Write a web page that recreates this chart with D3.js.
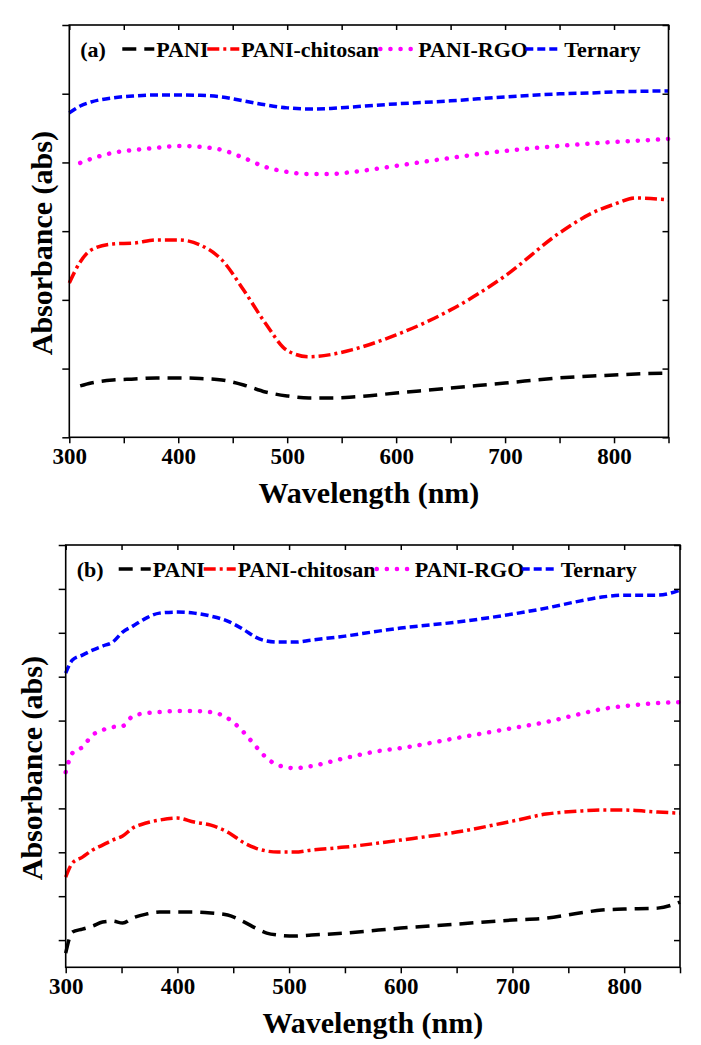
<!DOCTYPE html>
<html>
<head>
<meta charset="utf-8">
<script src="https://cdn.jsdelivr.net/npm/d3@7"></script>
<style>
  body { margin: 0; background: #fff; }
</style>
</head>
<body>
<div id="chart"></div>
<script>
// === DATA (a) ===
const waveA = [300, 310, 320, 340, 360, 380, 400, 420, 440, 460, 480, 500, 520, 540, 560, 600, 650, 700, 750, 780, 800, 820, 850];
const paniA = [null, 0.374, 0.395, 0.417, 0.424, 0.432, 0.432, 0.428, 0.417, 0.381, 0.330, 0.301, 0.286, 0.286, 0.293, 0.322, 0.359, 0.395, 0.432, 0.446, 0.453, 0.461, 0.468];
const chitosanA = [1.123, 1.276, 1.363, 1.407, 1.414, 1.436, 1.436, 1.400, 1.291, 1.072, 0.830, 0.632, 0.586, 0.602, 0.638, 0.745, 0.927, 1.174, 1.487, 1.632, 1.695, 1.741, 1.727];
const rgoA = [null, 1.997, 2.026, 2.070, 2.091, 2.106, 2.120, 2.113, 2.091, 2.033, 1.967, 1.931, 1.916, 1.916, 1.931, 1.975, 2.033, 2.084, 2.120, 2.138, 2.149, 2.157, 2.171];
const ternaryA = [2.360, 2.411, 2.440, 2.470, 2.484, 2.491, 2.491, 2.488, 2.477, 2.448, 2.419, 2.397, 2.389, 2.393, 2.404, 2.426, 2.448, 2.477, 2.499, 2.506, 2.513, 2.517, 2.520];

// === DATA (b) ===
const waveB = [300, 306, 315, 324, 333, 342, 351, 360, 372, 384, 400, 415, 430, 445, 460, 470, 480, 490, 505, 520, 550, 580, 600, 650, 700, 730, 760, 780, 800, 830, 850];
const paniB = [0.352, 0.591, 0.625, 0.659, 0.705, 0.716, 0.694, 0.751, 0.796, 0.819, 0.819, 0.819, 0.808, 0.785, 0.705, 0.637, 0.580, 0.557, 0.546, 0.557, 0.580, 0.614, 0.637, 0.682, 0.728, 0.751, 0.808, 0.842, 0.853, 0.864, 0.933];
const chitosanB = [1.218, 1.377, 1.445, 1.525, 1.582, 1.639, 1.685, 1.776, 1.833, 1.867, 1.890, 1.844, 1.810, 1.730, 1.605, 1.548, 1.514, 1.502, 1.502, 1.525, 1.559, 1.605, 1.639, 1.730, 1.855, 1.935, 1.969, 1.981, 1.981, 1.958, 1.946];
const rgoB = [2.413, 2.630, 2.698, 2.835, 2.892, 2.926, 2.937, 3.051, 3.085, 3.097, 3.108, 3.108, 3.097, 3.028, 2.858, 2.710, 2.573, 2.493, 2.459, 2.482, 2.573, 2.653, 2.687, 2.801, 2.915, 2.983, 3.074, 3.131, 3.165, 3.199, 3.211];
const ternaryB = [3.541, 3.689, 3.746, 3.803, 3.849, 3.894, 4.008, 4.076, 4.167, 4.224, 4.236, 4.224, 4.190, 4.133, 4.031, 3.951, 3.906, 3.894, 3.894, 3.917, 3.962, 4.019, 4.054, 4.122, 4.213, 4.281, 4.361, 4.407, 4.429, 4.429, 4.486];

const seriesNames = ["PANI", "PANI-chitosan", "PANI-RGO", "Ternary"];
const xTicks = [300, 350, 400, 450, 500, 550, 600, 650, 700, 750, 800, 850];

// line styles per series
const styles = [
  { color: "#000000", dash: "14,8", cap: "butt", width: 3.5 },
  { color: "#ff0000", dash: "12,4,3,4", cap: "butt", width: 3.5 },
  { color: "#ff00ff", dash: "0.1,10", cap: "round", width: 4.5 },
  { color: "#0000ff", dash: "8,4", cap: "butt", width: 3.5 }
];
// legend sample / text offsets from the left frame
const legendSampleX = [53, 138, 311, 456];
const legendTextX = [87, 172, 349, 495];

const FONT = "Liberation Serif";
const W = 701, H = 1045;
const svg = d3.select("#chart").append("svg")
  .attr("width", W)
  .attr("height", H);

svg.append("rect").attr("width", W).attr("height", H).attr("fill", "#fff");

function txt(sel, size) {
  return sel.attr("font-family", FONT)
    .attr("font-weight", "bold")
    .attr("font-size", size)
    .attr("fill", "#000");
}

// === PANEL ===
function drawPanel(cfg) {
  const { left, right, top, bottom } = cfg.box;
  const g = svg.append("g");

  const x = d3.scaleLinear().domain([300, 850]).range([left, right]);
  const y = d3.scaleLinear().domain(cfg.yDomain).range([bottom, top]);
  const yTicks = d3.range(cfg.yTickStart, cfg.yDomain[1] + 1e-6, cfg.yTickStep);

  // curves
  const line = d3.line()
    .defined(d => d[1] !== null)
    .x(d => x(d[0]))
    .y(d => y(d[1]))
    .curve(d3.curveMonotoneX);

  cfg.values.forEach((vals, i) => {
    const st = styles[i];
    g.append("path")
      .datum(cfg.wave.map((w, j) => [w, vals[j]]))
      .attr("fill", "none")
      .attr("stroke", st.color)
      .attr("stroke-width", st.width)
      .attr("stroke-dasharray", st.dash)
      .attr("stroke-linecap", st.cap)
      .attr("d", line);
  });

  // axes
  const bottomAxis = g.append("g")
    .attr("transform", `translate(0,${bottom})`)
    .call(d3.axisBottom(x).tickValues(xTicks).tickSize(6).tickPadding(4)
      .tickFormat(d => d % 100 === 0 && d < 850 ? d : ""));
  txt(bottomAxis.selectAll("text"), 23);

  g.append("g")
    .attr("transform", `translate(0,${top})`)
    .call(d3.axisTop(x).tickValues(xTicks).tickSize(-5).tickFormat(""));

  g.append("g")
    .attr("transform", `translate(${left},0)`)
    .call(d3.axisLeft(y).tickValues(yTicks).tickSize(7).tickFormat(""));

  g.append("g")
    .attr("transform", `translate(${right},0)`)
    .call(d3.axisRight(y).tickValues(yTicks).tickSize(-6).tickFormat(""));

  g.selectAll(".domain").remove();
  g.selectAll(".tick line").attr("stroke", "#000").attr("stroke-width", 1.5);

  g.append("rect")
    .attr("x", left)
    .attr("y", top)
    .attr("width", right - left)
    .attr("height", bottom - top)
    .attr("fill", "none")
    .attr("stroke", "#000")
    .attr("stroke-width", 1.6);

  // axis titles
  g.append("text")
    .attr("x", (left + right) / 2)
    .attr("y", bottom + 55)
    .attr("dy", "0.35em")
    .attr("text-anchor", "middle")
    .call(txt, 30)
    .text("Wavelength (nm)");

  g.append("text")
    .attr("transform", `translate(${cfg.yLabelX},${(top + bottom) / 2 + 12}) rotate(-90)`)
    .attr("dy", "0.35em")
    .attr("text-anchor", "middle")
    .call(txt, 30)
    .text("Absorbance (abs)");

  // legend
  const legY = top + 24;
  g.append("text")
    .attr("x", left + 11)
    .attr("y", legY)
    .attr("dy", "0.35em")
    .call(txt, 22)
    .text(cfg.label);

  seriesNames.forEach((name, i) => {
    const st = styles[i];
    const sx = left + legendSampleX[i];
    g.append("line")
      .attr("x1", sx).attr("x2", sx + 32)
      .attr("y1", legY).attr("y2", legY)
      .attr("stroke", st.color)
      .attr("stroke-width", st.width)
      .attr("stroke-dasharray", st.dash)
      .attr("stroke-linecap", st.cap);
    g.append("text")
      .attr("x", left + legendTextX[i])
      .attr("y", legY)
      .attr("dy", "0.35em")
      .call(txt, 22)
      .text(name);
  });
}

drawPanel({
  label: "(a)",
  box: { left: 69.3, right: 668.5, top: 25, bottom: 437.3 },
  yDomain: [0, 3],
  yTickStart: 0,
  yTickStep: 0.5,
  yLabelX: 41,
  wave: waveA,
  values: [paniA, chitosanA, rgoA, ternaryA]
});

drawPanel({
  label: "(b)",
  box: { left: 65.7, right: 680, top: 545, bottom: 967.3 },
  yDomain: [0.19, 5],
  yTickStart: 0.5,
  yTickStep: 0.5,
  yLabelX: 31,
  wave: waveB,
  values: [paniB, chitosanB, rgoB, ternaryB]
});
</script>
</body>
</html>
